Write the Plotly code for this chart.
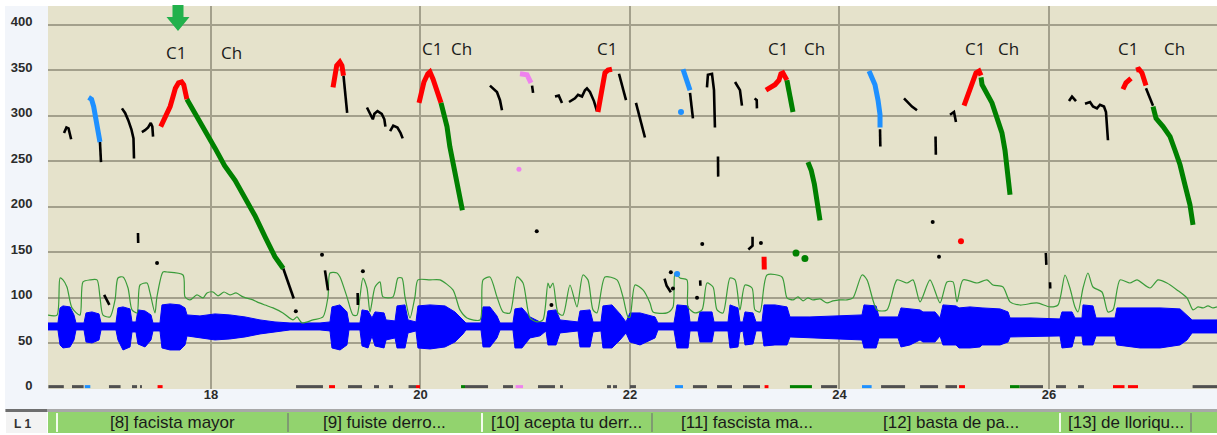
import plotly.graph_objects as go

W, H = 1217, 435

# ---------------- data ----------------
T_RANGE = [16.444, 27.604]
HZ_RANGE = [-0.4, 420.5]
Y_TICKS = [0, 50, 100, 150, 200, 250, 300, 350, 400]
X_TICKS = [18, 20, 22, 24, 26]

# pitch contour pieces (time s, F0 Hz)
black_segs = [
    ([16.597, 16.62, 16.64, 16.665], [281, 287, 286, 274]),
    ([16.94, 16.945, 16.95], [271, 260, 249]),
    ([17.15, 17.18, 17.21, 17.24, 17.26, 17.265, 17.265], [308, 303, 295, 285, 275, 265, 253]),
    ([17.34, 17.37, 17.40, 17.425, 17.44, 17.447], [282, 284, 287, 292, 288, 277]),
    ([18.69, 18.72, 18.76, 18.79], [132, 122, 110, 99]),
    ([19.265, 19.28, 19.30], [344, 325, 303]),
    ([19.489, 19.52, 19.545, 19.56, 19.59, 19.63, 19.655, 19.665], [309, 302, 296, 302, 305, 302, 296, 288]),
    ([19.71, 19.74, 19.78, 19.81, 19.83], [283, 289, 287, 281, 275]),
    ([20.663, 20.73, 20.759, 20.778], [333, 326, 317, 306]),
    ([21.065, 21.075], [333, 325]),
    ([21.284, 21.32, 21.351], [321, 322, 314]),
    ([21.418, 21.475, 21.504, 21.542, 21.570, 21.589, 21.618, 21.656, 21.685], [315, 319, 323, 321, 328, 330, 326, 316, 305]),
    ([21.895, 21.93, 21.962], [346, 332, 317]),
    ([22.057, 22.10, 22.143], [314, 295, 276]),
    ([22.573, 22.59, 22.601], [325, 310, 297]),
    ([22.735, 22.744, 22.783, 22.802, 22.811], [331, 345, 346, 328, 287]),
    ([22.84, 22.842], [255, 233]),
    ([23.003, 23.05, 23.069], [337, 328, 311]),
    ([23.19, 23.21, 23.212], [319, 317, 308]),
    ([24.387, 24.39], [285, 266]),
    ([24.616, 24.654, 24.692, 24.74], [319, 314, 310, 306]),
    ([24.917, 24.92], [277, 257]),
    ([25.055, 25.093, 25.112], [301, 304, 293]),
    ([26.191, 26.22, 26.258], [316, 321, 316]),
    ([26.344, 26.392, 26.42, 26.458, 26.487, 26.525, 26.544, 26.563], [313, 315, 310, 308, 312, 310, 304, 273]),
    ([26.926, 26.96, 26.993], [330, 320, 311]),
    ([16.98, 17.03], [103, 92]),
    ([17.303, 17.305], [171, 160]),
    ([19.088, 19.10, 19.117], [130, 120, 108]),
    ([19.40, 19.402], [105, 92]),
    ([22.33, 22.35, 22.39], [121, 113, 106]),
    ([22.67, 22.672], [119, 113]),
    ([23.17, 23.17, 23.13], [167, 157, 153]),
    ([25.97, 25.975], [149, 136]),
    ([26.01, 26.012], [117, 110]),
]
black_dots_t = [17.485, 19.06, 19.45, 18.81, 21.11, 21.25, 22.69, 23.25, 22.39, 22.64, 22.41, 24.89, 24.95]
black_dots_hz = [138, 147, 129, 85, 173, 92, 159, 160, 128, 100, 110, 183, 145]

blue_segs = [
    ([16.832, 16.86, 16.88, 16.895, 16.91, 16.925, 16.94], [320, 318, 310, 300, 290, 280, 271]),
    ([22.506, 22.53, 22.55, 22.573], [351, 343, 335, 328]),
    ([24.282, 24.339, 24.368, 24.387, 24.387], [349, 334, 317, 301, 287]),
]
blue_dots_t = [22.487, 22.45]
blue_dots_hz = [304, 126]

red_segs = [
    ([17.52, 17.55, 17.58, 17.61, 17.635, 17.66, 17.69, 17.72, 17.74, 17.755, 17.77],
     [288, 295, 301, 310, 320, 330, 336, 337, 334, 325, 318]),
    ([19.165, 19.18, 19.20, 19.23, 19.25, 19.265], [331, 345, 355, 359, 355, 344]),
    ([19.986, 20.005, 20.033, 20.07, 20.09, 20.12, 20.16, 20.196], [314, 323, 337, 346, 348, 340, 326, 314]),
    ([21.694, 21.714, 21.733, 21.761, 21.79, 21.828], [304, 317, 334, 347, 350, 351]),
    ([23.298, 23.336, 23.384, 23.422, 23.441, 23.46, 23.498], [328, 331, 334, 339, 346, 347, 339]),
    ([25.189, 25.227, 25.265, 25.303, 25.332, 25.351], [311, 323, 337, 347, 349, 344]),
    ([26.706, 26.735, 26.783], [329, 336, 341]),
    ([26.831, 26.859, 26.888, 26.926], [350, 351, 347, 333]),
    ([23.28, 23.282], [145, 131]),
]
red_dots_t = [25.16]
red_dots_hz = [162]

green_segs = [
    ([17.77, 17.85, 17.94, 18.04, 18.13, 18.23, 18.32, 18.42, 18.52, 18.61, 18.69],
     [318, 303, 284, 264, 245, 229, 210, 190, 166, 145, 132]),
    ([20.196, 20.215, 20.253, 20.28, 20.31, 20.35, 20.38, 20.40], [314, 305, 288, 266, 248, 229, 211, 196]),
    ([23.498, 23.52, 23.556], [339, 325, 304]),
    ([23.699, 23.73, 23.76, 23.79, 23.814], [249, 240, 225, 205, 185]),
    ([25.351, 25.361, 25.456, 25.504, 25.551, 25.58, 25.609, 25.628], [342, 334, 314, 299, 281, 262, 237, 213]),
    ([26.993, 27.022, 27.089, 27.156, 27.203, 27.251, 27.298, 27.346, 27.375],
     [310, 297, 288, 277, 262, 246, 224, 202, 180]),
]
green_dots_t = [23.585, 23.67]
green_dots_hz = [149, 143]

pink_segs = [([20.95, 21.017, 21.055], [346, 345, 336])]
pink_dots_t = [20.94]
pink_dots_hz = [241]

# intensity curve (time s, value on same scale)
int_t = [16.444, 16.530, 16.559, 16.587, 16.625, 16.673, 16.749, 16.778, 16.845, 16.912, 16.940, 16.969,
         17.036, 17.084, 17.112, 17.160, 17.208, 17.246, 17.294, 17.322, 17.389, 17.418, 17.465, 17.484,
         17.542, 17.580, 17.733, 17.752, 17.800, 17.866, 17.924, 17.962, 18.019, 18.067, 18.124, 18.181,
         18.239, 18.306, 18.401, 18.439, 18.516, 18.592, 18.687, 18.783, 18.821, 18.869, 18.974, 19.069,
         19.117, 19.136, 19.203, 19.232, 19.298, 19.356, 19.394, 19.422, 19.451, 19.489, 19.518, 19.566,
         19.613, 19.642, 19.737, 19.785, 19.823, 19.852, 19.900, 19.947, 19.976, 20.091, 20.186, 20.310,
         20.377, 20.444, 20.568, 20.597, 20.663, 20.730, 20.788, 20.854, 20.921, 20.979, 21.045, 21.112,
         21.169, 21.217, 21.236, 21.265, 21.313, 21.360, 21.427, 21.494, 21.551, 21.599, 21.647, 21.685,
         21.761, 21.876, 21.933, 21.981, 22.000, 22.048, 22.124, 22.191, 22.220, 22.353, 22.411, 22.430,
         22.477, 22.544, 22.554, 22.621, 22.688, 22.735, 22.793, 22.831, 22.888, 22.955, 23.003, 23.050,
         23.098, 23.165, 23.193, 23.241, 23.308, 23.451, 23.499, 23.556, 23.604, 23.652, 23.699, 23.747,
         23.814, 23.881, 23.938, 24.005, 24.072, 24.129, 24.215, 24.263, 24.358, 24.453, 24.549, 24.644,
         24.702, 24.769, 24.864, 24.960, 25.026, 25.084, 25.122, 25.179, 25.313, 25.408, 25.465, 25.561,
         25.628, 25.723, 25.885, 26.010, 26.086, 26.153, 26.200, 26.248, 26.277, 26.325, 26.372, 26.420,
         26.506, 26.563, 26.611, 26.678, 26.773, 26.840, 26.964, 27.041, 27.126, 27.222, 27.317, 27.375,
         27.423, 27.470, 27.518, 27.566, 27.604]
int_v = [80.8, 80.8, 121.6, 119.5, 111.7, 88.7, 80.8, 117.3, 119.5, 119.5, 100.8, 80.8,
         78.8, 97.5, 121.6, 122.7, 110.6, 86.5, 83.2, 113.9, 116.1, 105.2, 83.2, 100.8,
         128.2, 128.2, 124.9, 100.8, 97.5, 103.0, 99.7, 105.2, 106.2, 101.9, 106.2, 103.0,
         105.2, 100.8, 97.5, 95.3, 91.9, 88.7, 83.2, 75.5, 78.8, 72.2, 75.5, 78.8,
         100.8, 127.1, 127.1, 122.7, 100.8, 80.8, 80.8, 100.8, 121.6, 110.6, 84.3, 111.7,
         117.3, 100.8, 100.8, 121.6, 121.6, 100.8, 77.7, 100.8, 119.5, 119.5, 119.5, 108.5,
         86.5, 77.7, 75.5, 119.5, 122.7, 100.8, 84.3, 83.2, 122.7, 116.1, 77.7, 73.3,
         75.5, 116.1, 110.6, 116.1, 83.2, 80.8, 113.9, 89.8, 124.9, 119.5, 86.5, 83.2,
         122.7, 119.5, 100.8, 78.8, 78.8, 113.9, 108.5, 94.2, 84.3, 83.2, 89.8, 127.1,
         121.6, 119.5, 89.8, 83.2, 86.5, 116.1, 111.7, 86.5, 83.2, 121.6, 119.5, 86.5,
         113.9, 110.6, 86.5, 84.3, 124.9, 122.7, 99.7, 97.5, 100.8, 96.4, 99.7, 97.5,
         98.6, 94.2, 96.4, 97.5, 97.5, 99.7, 124.9, 119.5, 86.5, 86.5, 119.5, 116.1,
         119.5, 95.3, 119.5, 94.2, 117.3, 117.3, 95.3, 119.5, 116.1, 119.5, 113.9, 111.7,
         95.3, 91.9, 94.2, 89.8, 91.9, 124.9, 110.6, 89.8, 84.3, 110.6, 127.1, 111.7,
         106.2, 84.3, 86.5, 119.5, 116.1, 119.5, 110.6, 119.5, 116.1, 108.5, 99.7, 86.5,
         89.8, 88.7, 90.9, 88.7, 89.8]

# waveform envelope (time s, upper and lower edge on same scale)
wave_t = [16.444, 16.539, 16.559, 16.587, 16.654, 16.692, 16.711, 16.788, 16.807, 16.864, 16.931, 16.950,
          17.093, 17.112, 17.160, 17.227, 17.246, 17.284, 17.303, 17.370, 17.427, 17.446, 17.513, 17.532,
          17.609, 17.704, 17.752, 17.771, 17.895, 18.038, 18.181, 18.325, 18.468, 18.611, 18.754, 19.041,
          19.136, 19.155, 19.232, 19.298, 19.317, 19.422, 19.442, 19.499, 19.537, 19.566, 19.652, 19.671,
          19.757, 19.776, 19.852, 19.881, 19.957, 19.976, 20.091, 20.234, 20.329, 20.406, 20.434, 20.578,
          20.597, 20.663, 20.730, 20.759, 20.883, 20.902, 20.969, 21.045, 21.141, 21.198, 21.217, 21.294,
          21.332, 21.504, 21.523, 21.618, 21.647, 21.723, 21.742, 21.828, 21.905, 21.962, 22.000, 22.096,
          22.239, 22.267, 22.420, 22.449, 22.554, 22.573, 22.649, 22.668, 22.783, 22.802, 22.936, 22.955,
          23.031, 23.050, 23.079, 23.098, 23.174, 23.203, 23.260, 23.279, 23.384, 23.499, 23.527, 23.718,
          24.005, 24.215, 24.234, 24.349, 24.377, 24.559, 24.587, 24.673, 24.769, 24.797, 24.912, 24.960,
          24.988, 25.112, 25.141, 25.246, 25.342, 25.361, 25.533, 25.609, 25.628, 25.819, 26.105, 26.124,
          26.220, 26.248, 26.315, 26.325, 26.420, 26.449, 26.630, 26.649, 26.869, 27.060, 27.251, 27.318,
          27.366, 27.604]
wave_top = [72.2, 72.2, 88.7, 90.9, 89.8, 81.0, 72.2, 72.2, 83.2, 84.3, 82.1, 72.2,
            72.2, 88.7, 89.8, 87.6, 73.3, 73.3, 86.5, 85.4, 81.0, 72.2, 72.2, 92.0,
            93.1, 92.0, 88.7, 81.0, 79.9, 82.1, 81.0, 78.8, 75.5, 73.3, 72.2, 72.2,
            73.3, 89.8, 92.0, 84.3, 72.2, 72.2, 86.5, 85.4, 77.7, 84.3, 83.2, 75.5,
            74.4, 90.9, 92.0, 75.5, 73.3, 90.9, 92.0, 90.9, 84.3, 75.5, 72.2, 72.2,
            89.8, 89.8, 79.9, 72.2, 72.2, 87.6, 88.7, 78.8, 73.3, 72.2, 85.4, 86.5,
            75.5, 73.3, 85.4, 86.5, 73.3, 73.3, 90.9, 92.0, 82.1, 73.3, 83.2, 83.2,
            78.8, 72.2, 72.2, 92.0, 90.9, 73.3, 73.3, 84.3, 84.3, 73.3, 73.3, 92.0,
            88.7, 73.3, 73.3, 84.3, 83.2, 73.3, 73.3, 92.0, 92.0, 89.8, 78.8, 78.8,
            79.9, 81.0, 92.0, 90.9, 78.8, 78.8, 88.7, 87.6, 86.5, 84.3, 84.3, 77.7,
            92.0, 90.9, 88.7, 89.8, 88.7, 88.7, 87.6, 84.3, 77.7, 77.7, 76.6, 84.3,
            84.3, 77.7, 77.7, 92.0, 90.9, 77.7, 77.7, 88.7, 88.7, 88.7, 87.6, 81.0,
            75.5, 75.5]
wave_bot = [64.5, 64.5, 48.0, 44.7, 45.8, 53.5, 64.5, 64.5, 51.3, 50.2, 53.5, 64.5,
            64.5, 53.5, 42.5, 45.8, 62.3, 62.3, 49.1, 45.8, 53.5, 63.4, 63.4, 44.7,
            42.5, 42.5, 48.0, 57.9, 55.7, 53.5, 54.6, 56.8, 60.1, 62.3, 64.5, 64.5,
            63.4, 44.7, 42.5, 48.0, 64.5, 64.5, 46.9, 44.7, 57.9, 46.9, 44.7, 53.5,
            55.7, 44.7, 44.7, 61.2, 63.4, 44.7, 43.6, 45.8, 51.3, 60.1, 64.5, 64.5,
            45.8, 45.8, 55.7, 64.5, 64.5, 44.7, 44.7, 55.7, 58.0, 63.4, 48.0, 48.0,
            61.2, 63.4, 45.8, 45.8, 62.3, 63.4, 44.7, 44.7, 53.5, 61.2, 51.3, 48.0,
            55.7, 64.5, 64.5, 44.7, 44.7, 63.4, 63.4, 51.3, 51.3, 63.4, 63.4, 44.7,
            45.8, 62.3, 63.4, 48.0, 49.1, 63.4, 63.4, 46.9, 48.0, 48.0, 56.8, 55.7,
            54.6, 53.5, 44.7, 44.7, 55.7, 55.7, 45.8, 48.0, 53.5, 51.3, 51.3, 57.9,
            48.0, 48.0, 44.7, 44.7, 45.8, 48.0, 48.0, 51.3, 56.8, 56.8, 57.9, 44.7,
            45.8, 57.9, 57.9, 48.0, 48.0, 57.9, 57.9, 48.0, 44.7, 44.7, 48.0, 53.5,
            61.2, 61.2]

# voicing/label marks along the base line (start s, end s, kind)
base_marks = [
    (16.448, 16.595, "k"), (16.673, 16.784, "k"), (16.795, 16.848, "b"), (17.026, 17.137, "k"),
    (17.246, 17.294, "k"), (17.322, 17.341, "k"), (17.49, 17.538, "r"), (18.812, 19.069, "k"),
    (19.127, 19.184, "r"), (19.308, 19.442, "k"), (19.556, 19.604, "k"), (19.699, 19.738, "k"),
    (19.886, 19.957, "k"), (19.957, 19.995, "r"), (20.387, 20.425, "g"), (20.425, 20.645, "k"),
    (20.788, 20.883, "k"), (20.908, 20.979, "p"), (21.122, 21.284, "k"), (21.332, 21.360, "k"),
    (21.781, 21.819, "k"), (21.838, 21.876, "k"), (22.0, 22.057, "k"), (22.43, 22.506, "b"),
    (22.601, 22.735, "k"), (22.831, 22.974, "k"), (23.079, 23.241, "k"), (23.285, 23.322, "r"),
    (23.527, 23.737, "g"), (23.824, 23.977, "k"), (24.215, 24.307, "b"), (24.397, 24.626, "k"),
    (24.769, 24.941, "k"), (25.012, 25.122, "k"), (25.141, 25.198, "r"), (25.628, 25.719, "g"),
    (25.719, 25.943, "k"), (26.067, 26.162, "k"), (26.277, 26.334, "k"), (26.611, 26.721, "r"),
    (26.754, 26.850, "r"), (27.371, 27.604, "k"),
]

# text annotations above contours
note_text = ["C1", "Ch", "C1", "Ch", "C1", "C1", "Ch", "C1", "Ch", "C1", "Ch"]
note_t = [17.666, 18.200, 20.110, 20.396, 21.781, 23.413, 23.757, 25.294, 25.618, 26.759, 27.194]
note_hz = [369, 369, 374, 374, 374, 374, 374, 374, 374, 374, 374]
arrow_t = 17.685

# annotation tier
tier_name = "L 1"
tier_bounds = [16.530, 18.735, 20.587, 22.210, 24.024, 26.105, 27.356]
tier_labels = ["[8] facista mayor", "[9] fuiste derro...", "[10] acepta tu derr...",
               "[11] fascista ma...", "[12] basta de pa...", "[13] de lloriqu..."]

# ---------------- styling ----------------
COL = {"k": "#000000", "b": "#1e90ff", "r": "#ff0000", "g": "#008000", "p": "#ee82ee", "mk": "#505050"}
BEIGE = "#e5e2cb"
GRID = "#a3a08c"
PANEL = "#f2f5fa"
TIER_GREEN = "#92d36e"

X0, X1 = 48, 1217        # plot pixel extent
Y0, Y1 = 6, 389
TY0, TY1 = 412, 433      # tier row


def px(x):
    return x / W


def py(y):
    return 1 - y / H


def joined(segs):
    xs, ys = [], []
    for t, v in segs:
        xs += list(t) + [None]
        ys += list(v) + [None]
    return xs, ys


fig = go.Figure()

# waveform
fig.add_trace(go.Scatter(
    x=wave_t + wave_t[::-1], y=wave_top + wave_bot[::-1], fill="toself",
    fillcolor="#0000ff", line=dict(color="#0000ff", width=1), mode="lines",
    hoverinfo="skip", showlegend=False))

# intensity
fig.add_trace(go.Scatter(x=int_t, y=int_v, mode="lines",
                         line=dict(color="#3a9c3a", width=1.2, shape="spline", smoothing=0.7),
                         hoverinfo="skip", showlegend=False))

# base marks
for kind in ["k", "b", "r", "g", "p"]:
    xs, ys = [], []
    for a, b, k in base_marks:
        if k == kind:
            xs += [a, b, None]
            ys += [2.2, 2.2, None]
    fig.add_trace(go.Scatter(x=xs, y=ys, mode="lines",
                             line=dict(color=COL["mk"] if kind == "k" else COL[kind], width=3),
                             hoverinfo="skip", showlegend=False))

# pitch contours
for segs, c, wdt in [(black_segs, "k", 2.6), (blue_segs, "b", 5), (red_segs, "r", 5),
                     (green_segs, "g", 5), (pink_segs, "p", 5)]:
    xs, ys = joined(segs)
    fig.add_trace(go.Scatter(x=xs, y=ys, mode="lines", connectgaps=False,
                             line=dict(color=COL[c], width=wdt),
                             hoverinfo="skip", showlegend=False))

for dt, dh, c, sz in [(black_dots_t, black_dots_hz, "k", 4), (blue_dots_t, blue_dots_hz, "b", 6),
                      (red_dots_t, red_dots_hz, "r", 6), (green_dots_t, green_dots_hz, "g", 7),
                      (pink_dots_t, pink_dots_hz, "p", 5)]:
    fig.add_trace(go.Scatter(x=dt, y=dh, mode="markers",
                             marker=dict(color=COL[c], size=sz, line=dict(width=0)),
                             hoverinfo="skip", showlegend=False))

# ---------- shapes ----------
shapes = []
shapes.append(dict(type="rect", xref="paper", yref="paper", x0=px(5), x1=px(X0), y0=py(409), y1=py(Y0),
                   fillcolor=PANEL, line=dict(width=0), layer="below"))
shapes.append(dict(type="rect", xref="paper", yref="paper", x0=px(5), x1=px(W), y0=py(409), y1=py(Y1),
                   fillcolor=PANEL, line=dict(width=0), layer="below"))
shapes.append(dict(type="rect", xref="paper", yref="paper", x0=px(5), x1=px(W), y0=py(TY0), y1=py(409),
                   fillcolor="#a8a8a8", line=dict(width=0), layer="below"))
shapes.append(dict(type="rect", xref="paper", yref="paper", x0=px(6), x1=px(X0 - 1), y0=py(TY1), y1=py(TY0),
                   fillcolor="#f3f3f3", line=dict(width=0), layer="below"))
shapes.append(dict(type="rect", xref="paper", yref="paper", x0=px(6), x1=px(X0 - 1), y0=py(TY0), y1=py(TY0 - 3),
                   fillcolor="#6e6e6e", line=dict(width=0), layer="below"))
shapes.append(dict(type="rect", xref="x2", yref="y2", x0=T_RANGE[0], x1=T_RANGE[1], y0=0, y1=1,
                   fillcolor=TIER_GREEN, line=dict(width=0), layer="below"))
for i, b in enumerate(tier_bounds):
    if i == 4:
        continue
    col = "#f4fbef" if i in (0, 2, 5) else "#7f9a72"
    shapes.append(dict(type="line", xref="x2", yref="y2", x0=b, x1=b, y0=0.05, y1=0.95,
                       line=dict(color=col, width=2)))
ax = X0 + (arrow_t - T_RANGE[0]) / (T_RANGE[1] - T_RANGE[0]) * (X1 - X0)
pts = [(ax - 5.5, 5), (ax + 5.5, 5), (ax + 5.5, 17), (ax + 11.5, 17), (ax, 31), (ax - 11.5, 17), (ax - 5.5, 17)]
path = "M " + " L ".join(f"{px(a):.5f},{py(b):.5f}" for a, b in pts) + " Z"
shapes.append(dict(type="path", xref="paper", yref="paper", path=path,
                   fillcolor="#22b14c", line=dict(width=0)))

annotations = []
for txt, t, h in zip(note_text, note_t, note_hz):
    annotations.append(dict(x=t, y=h, xref="x", yref="y", text=txt, showarrow=False,
                            font=dict(family="Open Sans", size=17, color="#1a1a1a")))
for i, lab in enumerate(tier_labels):
    c = 0.5 * (tier_bounds[i] + tier_bounds[i + 1])
    annotations.append(dict(x=c, y=0.5, xref="x2", yref="y2", text=lab, showarrow=False,
                            xanchor="center", yanchor="middle",
                            font=dict(family="Liberation Sans", size=17, color="#1a1a1a")))
annotations.append(dict(x=px(22), y=py((TY0 + TY1) / 2 + 1), xref="paper", yref="paper", text=tier_name,
                        showarrow=False, xanchor="center", yanchor="middle",
                        font=dict(family="Liberation Sans", size=12, color="#333333", weight="bold")))

fig.update_layout(
    width=W, height=H, margin=dict(l=0, r=0, t=0, b=0, autoexpand=False),
    paper_bgcolor="white", plot_bgcolor=BEIGE, showlegend=False,
    shapes=shapes, annotations=annotations,
    xaxis=dict(domain=[px(X0), 1], range=T_RANGE, tickvals=X_TICKS, ticktext=[str(v) for v in X_TICKS],
               showgrid=True, gridcolor=GRID, gridwidth=2, zeroline=False, showline=False,
               ticks="", ticklabelstandoff=-4, automargin=False,
               tickfont=dict(family="Liberation Sans", size=13, color="#2b2b2b", weight="bold"),
               anchor="y", fixedrange=True),
    yaxis=dict(domain=[py(Y1), py(Y0)], range=HZ_RANGE, tickvals=Y_TICKS,
               showgrid=True, gridcolor=GRID, gridwidth=2, zeroline=False, showline=False,
               ticks="outside", ticklen=12, tickcolor="rgba(0,0,0,0)", ticklabelshift=-3, automargin=False,
               tickfont=dict(family="Liberation Sans", size=13, color="#2b2b2b", weight="bold"),
               anchor="x", fixedrange=True),
    xaxis2=dict(domain=[px(X0), 1], range=T_RANGE, showgrid=False, zeroline=False, automargin=False,
                showticklabels=False, ticks="", anchor="y2", fixedrange=True),
    yaxis2=dict(domain=[py(TY1), py(TY0)], range=[0, 1], showgrid=False, zeroline=False, automargin=False,
                showticklabels=False, ticks="", anchor="x2", fixedrange=True),
)

fig.write_html("out.html", config={"displayModeBar": False},
               post_script="document.body.style.margin='0px';document.body.style.overflow='hidden';")
